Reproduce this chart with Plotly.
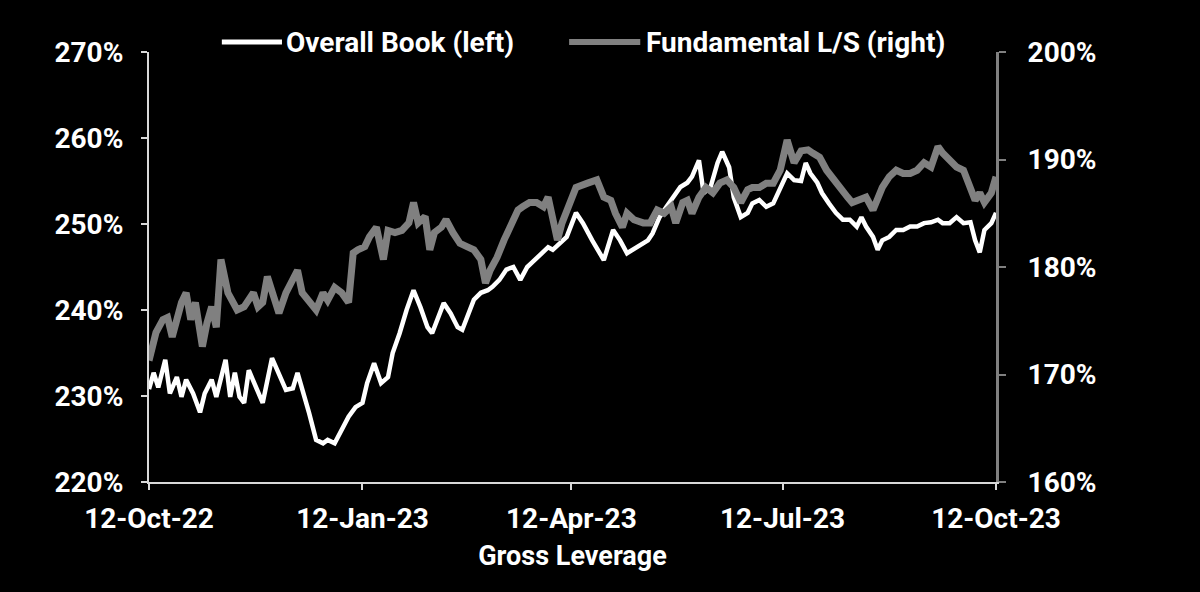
import pandas as pd
import plotly.graph_objects as go

start = pd.Timestamp("2022-10-12")

# Overall Book gross leverage (left axis, %), days after 12-Oct-22
book_day = [0, 2, 4, 7, 9, 12, 14, 16, 19, 22, 24, 27, 29, 33, 35, 37, 39, 41, 43, 46,
            49, 53, 56, 59, 62, 64, 69, 72, 75, 77, 80, 83, 86, 89, 92, 94, 97, 100, 103, 105,
            108, 111, 114, 117, 120, 122, 124, 127, 130, 133, 135, 137, 140, 143, 146, 148, 151, 154, 157, 160,
            163, 165, 168, 172, 174, 177, 180, 184, 187, 191, 196, 200, 203, 206, 210, 215, 217, 220, 223, 226,
            229, 232, 234, 237, 239, 242, 245, 247, 250, 252, 255, 258, 260, 263, 266, 269, 272, 275, 278, 281,
            283, 285, 288, 290, 293, 296, 299, 302, 305, 307, 309, 312, 314, 316, 319, 322, 325, 328, 331, 334,
            337, 340, 342, 345, 348, 351, 354, 356, 358, 360, 363, 365]
book_val = [230.8, 232.7, 231.0, 234.2, 230.3, 232.2, 229.9, 231.9, 230.3, 228.1, 230.3, 231.9, 229.9, 234.2, 229.9, 232.7, 229.9, 229.2, 233.0, 231.0,
            229.2, 234.4, 232.7, 230.7, 230.9, 232.7, 228.0, 224.9, 224.5, 224.9, 224.5, 226.0, 227.6, 228.7, 229.2, 231.5, 233.8, 231.5, 232.2, 235.0,
            237.3, 240.0, 242.3, 240.3, 238.0, 237.3, 238.8, 240.8, 239.6, 238.0, 237.7, 239.2, 241.2, 242.0, 242.3, 242.7, 243.5, 244.7, 245.0, 243.5,
            245.0, 245.5, 246.2, 247.3, 247.0, 247.8, 248.5, 251.3, 250.1, 248.1, 245.8, 249.3, 248.1, 246.6, 247.3, 248.1, 248.9, 250.8, 252.0, 253.1,
            254.3, 254.8, 255.5, 257.4, 253.6, 254.3, 257.1, 258.4, 256.6, 253.1, 250.8, 251.3, 252.4, 252.8, 252.0, 252.4, 254.3, 255.9, 255.1, 255.0,
            257.1, 255.9, 254.8, 253.6, 252.4, 251.3, 250.5, 250.5, 249.7, 250.8, 249.7, 248.5, 247.0, 248.1, 248.5, 249.3, 249.3, 249.7, 249.7, 250.1,
            250.2, 250.5, 250.1, 250.1, 250.8, 250.1, 250.2, 248.1, 246.7, 249.3, 250.1, 251.3]

# Fundamental L/S gross leverage (right axis, %)
fund_day = [0, 1, 3, 6, 8, 10, 12, 14, 16, 18, 20, 23, 25, 27, 29, 31, 34, 36, 38, 41,
            45, 47, 49, 51, 53, 56, 59, 62, 64, 66, 69, 72, 75, 77, 80, 83, 86, 88, 90, 93,
            95, 98, 101, 103, 106, 109, 112, 114, 116, 119, 121, 123, 126, 128, 131, 134, 137, 140, 143, 145,
            147, 150, 153, 156, 159, 161, 164, 167, 170, 172, 176, 178, 181, 184, 189, 193, 196, 199, 201, 204,
            206, 209, 213, 216, 219, 222, 225, 227, 230, 232, 234, 237, 240, 243, 246, 249, 252, 255, 258, 260,
            263, 266, 269, 272, 275, 278, 281, 284, 286, 289, 292, 295, 298, 301, 303, 306, 309, 312, 314, 316,
            319, 322, 325, 328, 331, 334, 337, 340, 342, 345, 348, 351, 354, 356, 358, 360, 363, 365]
fund_val = [171.3, 172.0, 173.9, 175.1, 175.3, 173.5, 175.1, 176.7, 177.6, 175.1, 176.7, 172.6, 174.8, 176.3, 174.4, 180.7, 177.6, 176.7, 176.0, 176.3,
            177.6, 176.3, 176.7, 179.1, 177.9, 175.7, 177.6, 179.1, 179.7, 177.6, 176.7, 176.0, 177.6, 176.9, 178.1, 177.6, 176.7, 181.3, 181.6, 181.9,
            182.8, 183.7, 180.7, 183.4, 183.2, 183.4, 184.1, 186.0, 184.1, 184.7, 181.6, 183.2, 183.7, 184.4, 183.2, 182.2, 181.9, 181.6, 180.7, 178.5,
            179.7, 180.9, 182.5, 184.1, 185.3, 185.6, 186.0, 186.0, 185.6, 186.5, 182.5, 184.1, 185.6, 187.4, 187.8, 188.1, 186.5, 186.2, 185.0, 183.7,
            185.0, 184.4, 184.1, 184.1, 185.3, 185.0, 185.6, 184.1, 186.0, 186.2, 185.0, 186.5, 187.4, 186.9, 187.8, 188.1, 187.4, 186.0, 187.2, 187.4,
            187.4, 187.8, 187.8, 189.0, 191.8, 189.7, 190.8, 190.9, 190.6, 190.2, 189.0, 188.1, 187.2, 186.5, 186.0, 186.2, 186.5, 185.3, 186.5, 187.4,
            188.4, 189.0, 188.7, 188.7, 189.0, 189.7, 189.3, 191.2, 190.6, 190.0, 189.3, 189.0, 187.4, 186.2, 186.9, 186.0, 186.9, 188.4]

tick_dates = ["2022-10-12", "2023-01-12", "2023-04-12", "2023-07-12", "2023-10-12"]
tick_text = ["12-Oct-22", "12-Jan-23", "12-Apr-23", "12-Jul-23", "12-Oct-23"]

book_x = start + pd.to_timedelta(book_day, unit="D")
fund_x = start + pd.to_timedelta(fund_day, unit="D")

FONT = "Roboto, Liberation Sans, sans-serif"
GREY = "#808080"
AXIS = "#d9d9d9"

fig = go.Figure()
fig.add_trace(go.Scatter(x=fund_x, y=[v / 100 for v in fund_val], name="Fundamental L/S (right)",
                         yaxis="y2", mode="lines", line=dict(color=GREY, width=7)))
fig.add_trace(go.Scatter(x=book_x, y=[v / 100 for v in book_val], name="Overall Book (left)",
                         mode="lines", line=dict(color="white", width=4.5)))

# legend drawn by hand so the swatches are long like the original
fig.add_shape(type="line", xref="paper", yref="paper", x0=0.086, x1=0.157, y0=1.023, y1=1.023,
              line=dict(color="white", width=5))
fig.add_shape(type="line", xref="paper", yref="paper", x0=0.496, x1=0.580, y0=1.023, y1=1.023,
              line=dict(color=GREY, width=6))
fig.add_annotation(text="Overall Book (left)", xref="paper", yref="paper", x=0.159, y=1.023,
                   xanchor="left", yanchor="middle", showarrow=False)
fig.add_annotation(text="Fundamental L/S (right)", xref="paper", yref="paper", x=0.585, y=1.023,
                   xanchor="left", yanchor="middle", showarrow=False)

fig.update_layout(
    width=1200, height=592,
    paper_bgcolor="black", plot_bgcolor="black",
    margin=dict(l=149, r=204, t=52, b=110),
    font=dict(family=FONT, size=28, color="white", weight="bold"),
    showlegend=False,
    xaxis=dict(type="date", range=["2022-10-12", "2023-10-12"],
               tickvals=tick_dates, ticktext=tick_text,
               showgrid=False, zeroline=False,
               showline=True, linecolor=AXIS, linewidth=2,
               ticks="outside", ticklen=6, tickcolor=AXIS, tickwidth=2,
               ticklabelstandoff=4,
               title=dict(text="Gross Leverage", standoff=13,
                          font=dict(family=FONT, size=27, color="white", weight="bold"))),
    yaxis=dict(range=[2.2, 2.7], dtick=0.1, tickformat=".0%",
               showgrid=False, zeroline=False,
               showline=True, linecolor=AXIS, linewidth=2,
               ticks="outside", ticklen=6, tickcolor=AXIS, tickwidth=2,
               ticklabelstandoff=12),
    yaxis2=dict(range=[1.6, 2.0], dtick=0.1, tickformat=".0%", overlaying="y", side="right",
                showgrid=False, zeroline=False,
                showline=True, linecolor=GREY, linewidth=3,
                ticks="outside", ticklen=7, tickcolor=GREY, tickwidth=2,
                ticklabelstandoff=16),
)

fig.write_html("out.html", config={"displayModeBar": False},
               post_script="document.body.style.margin='0';document.body.style.background='black';")
